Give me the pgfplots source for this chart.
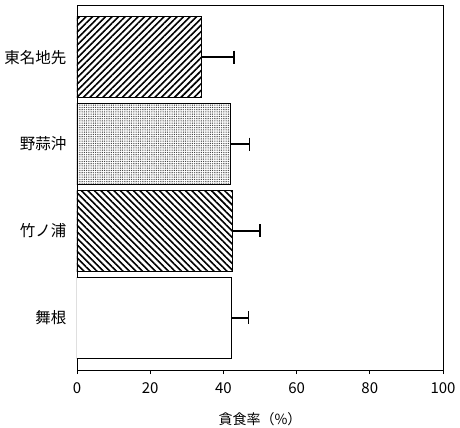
\documentclass[border=0pt]{standalone}
\usepackage{fontspec}
\setmainfont{Noto Sans CJK JP}
\usepackage{pgfplots}
\pgfplotsset{compat=1.18}
\usetikzlibrary{patterns.meta}

\begin{document}
\begin{tikzpicture}
  \path[use as bounding box] (-77bp,-58bp) rectangle (383bp,370bp);
  \begin{axis}[
      name=ax,
      at={(0,0)}, anchor=south west,
      scale only axis,
      width=366bp, height=365bp,
      xbar, bar shift=0pt, bar width=0.93,
      xmin=0, xmax=100,
      ymin=-0.6, ymax=3.6,
      xtick={0,20,40,60,80,100},
      ytick={0,1,2,3},
      yticklabels={舞根,竹ノ浦,野蒜沖,東名地先},
      ytick style={draw=none},
      xtick pos=bottom,
      tick align=outside,
      major tick length=4bp,
      axis line style={line width=0.9bp},
      every tick/.style={black, line width=0.9bp},
      /pgf/number format/assume math mode=true,
      tick label style={font=\fontsize{15bp}{17bp}\selectfont},
      yticklabel style={font=\fontsize{15.5bp}{17bp}\selectfont, xshift=-3bp},
      xticklabel style={yshift=-5bp},
      xlabel={貪食率（\%）},
      xlabel style={font=\fontsize{14bp}{16bp}\selectfont,
        at={(axis description cs:0.5,-0.135)}, anchor=center},
      error bars/x dir=plus,
      error bars/x explicit,
      error bars/error bar style={line width=1.3bp, black},
      error bars/error mark options={rotate=90, mark size=6.5bp, line width=1.3bp, black},
    ]
    % 舞根
    \addplot[draw=black, line width=1bp, fill=white]
      coordinates {(42.1,0) +- (4.7,0)};
    % 竹ノ浦
    \addplot[draw=black, line width=1bp,
      pattern={Lines[angle=-45, distance=4.6bp, line width=1.6bp]}]
      coordinates {(42.6,1) +- (7.4,0)};
    % 野蒜沖
    \addplot[draw=black, line width=1bp,
      pattern={Dots[distance=1.8bp, radius=0.45bp]}]
      coordinates {(42.0,2) +- (5.1,0)};
    % 東名地先
    \addplot[draw=black, line width=1bp,
      pattern={Lines[angle=45, distance=4.6bp, line width=1.6bp]}]
      coordinates {(34.0,3) +- (8.9,0)};
  \end{axis}
\end{tikzpicture}
\end{document}
